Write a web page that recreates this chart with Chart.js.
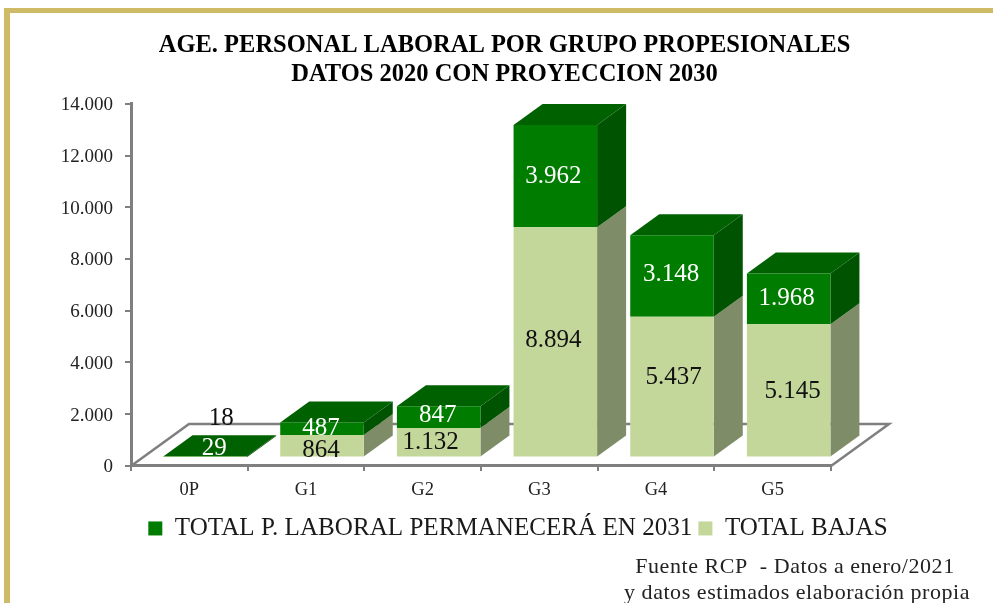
<!DOCTYPE html>
<html><head><meta charset="utf-8">
<style>html,body{margin:0;padding:0;background:#fff;overflow:hidden}#w{width:993px;height:603px;position:relative}</style>
<script src="https://cdn.jsdelivr.net/npm/chart.js@4"></script>
</head><body><div id="w"><canvas id="c"></canvas></div>
<script>
const categories = ['0P','G1','G2','G3','G4','G5'];
const totalBajas = [18,864,1132,8894,5437,5145];
const totalPermanece = [29,487,847,3962,3148,1968];
const valueTicks = ['0','2.000','4.000','6.000','8.000','10.000','12.000','14.000'];
const titleLines = ['AGE. PERSONAL LABORAL POR GRUPO PROPESIONALES','DATOS 2020 CON PROYECCION 2030'];
const sourceLines = ['Fuente RCP  - Datos a enero/2021','y datos estimados elaboración propia'];
const bajasLabelDx = [16,-1,-8,-2,1.5,4];
const bajasLabelDy = [-38,5,0,-1,-9,1];
const permLabelDx = [9,-1,-1,-2,-1,-2];
const permLabelDy = [-8,0,-2,0,-2,-0.5];
const SERIF = '"Liberation Serif", serif';
const SHIFT_X = 16, SHIFT_Y = -8.5, DX = 29, DY = 21, FLOOR_DX = 58, FLOOR_DY = 42;
const fmt = n => String(n).replace(/\B(?=(\d{3})+$)/g,'.');

function poly(ctx, pts, color){
  ctx.beginPath();
  pts.forEach((p,i)=> i?ctx.lineTo(p[0],p[1]):ctx.moveTo(p[0],p[1]));
  ctx.closePath(); ctx.fillStyle=color; ctx.fill();
}
const scene = {
  id:'scene',
  beforeDraw(chart){
    const ctx=chart.ctx;
    ctx.save();
    ctx.fillStyle='#fff'; ctx.fillRect(0,0,chart.width,chart.height);
    ctx.fillStyle='#cfba68';
    ctx.fillRect(4,8,6,chart.height-8);
    ctx.fillRect(4,8,chart.width-4,5);
    ctx.restore();
  },
  beforeDatasetsDraw(chart){
    const ctx=chart.ctx, a=chart.chartArea;
    ctx.save();
    ctx.strokeStyle='#7f7f7f'; ctx.lineWidth=2.5;
    ctx.beginPath();
    ctx.moveTo(a.left,a.bottom);
    ctx.lineTo(a.left+FLOOR_DX,a.bottom-FLOOR_DY);
    ctx.lineTo(a.right+FLOOR_DX,a.bottom-FLOOR_DY);
    ctx.lineTo(a.right,a.bottom);
    ctx.stroke();
    ctx.restore();
    ctx.save();
    ctx.translate(SHIFT_X,SHIFT_Y);
    const sides=['#7f8c68','#005300'];
    [0,1].forEach(d=>{
      chart.getDatasetMeta(d).data.forEach(el=>{
        const r=el.x+el.width/2, h=Math.min(el.y,el.base), b=Math.max(el.y,el.base);
        poly(ctx,[[r,h],[r+DX,h-DY],[r+DX,b-DY],[r,b]],sides[d]);
      });
    });
    chart.getDatasetMeta(1).data.forEach(el=>{
      const l=el.x-el.width/2, r=el.x+el.width/2, t=el.y;
      poly(ctx,[[l,t],[r,t],[r+DX,t-DY],[l+DX,t-DY]],'#006100');
    });
  },
  afterDatasetsDraw(chart){
    const ctx=chart.ctx;
    ctx.textAlign='center'; ctx.textBaseline='middle';
    ctx.font='25px '+SERIF;
    chart.getDatasetMeta(0).data.forEach((el,i)=>{
      ctx.fillStyle='#111';
      ctx.fillText(fmt(totalBajas[i]), el.x+bajasLabelDx[i], (el.y+el.base)/2+bajasLabelDy[i]);
    });
    chart.getDatasetMeta(1).data.forEach((el,i)=>{
      ctx.fillStyle='#fff';
      ctx.fillText(fmt(totalPermanece[i]), el.x+permLabelDx[i], (el.y+el.base)/2+permLabelDy[i]);
    });
    ctx.restore();
    ctx.save();
    ctx.font='22px '+SERIF; ctx.fillStyle='#222'; ctx.textAlign='center'; ctx.textBaseline='alphabetic';
    ctx.letterSpacing='0.55px';
    ctx.fillText(sourceLines[0],795,573);
    ctx.fillText(sourceLines[1],797,599);
    ctx.restore();
  },
  afterLayout(chart){
    chart.titleBlock.left=16; chart.titleBlock.right=chart.width;
  }
};
new Chart(document.getElementById('c'),{
  type:'bar',
  data:{labels:categories,datasets:[
    {label:'TOTAL BAJAS',data:totalBajas,backgroundColor:'#c4d79b',categoryPercentage:1,barPercentage:0.716},
    {label:'TOTAL P. LABORAL PERMANECERÁ EN 2031',data:totalPermanece,backgroundColor:'#007d00',categoryPercentage:1,barPercentage:0.716}
  ]},
  options:{
    responsive:true,maintainAspectRatio:false,animation:false,
    layout:{padding:{left:43,right:0,top:31,bottom:52}},
    plugins:{
      tooltip:{enabled:false},
      title:{display:true,text:titleLines,color:'#000',font:{family:SERIF,size:24.5,weight:'bold',lineHeight:1.2},padding:{top:0,bottom:14}},
      legend:{position:'bottom',reverse:true,labels:{boxWidth:14,boxHeight:14,padding:6,color:'#1a1a1a',font:{family:SERIF,size:25.1}}}
    },
    scales:{
      x:{stacked:true,offset:true,
        grid:{drawOnChartArea:false,color:'#7f7f7f',lineWidth:2,tickLength:5},
        border:{color:'#7f7f7f',width:3},
        ticks:{color:'#222',padding:8,maxRotation:0,font:{family:SERIF,size:18.5}},
        afterFit(s){s.height=44;}
      },
      y:{stacked:true,min:0,max:14000,
        grid:{drawOnChartArea:false,color:'#7f7f7f',lineWidth:2,tickLength:6},
        border:{color:'#7f7f7f',width:3},
        ticks:{stepSize:2000,color:'#222',padding:12,labelOffset:1.5,font:{family:SERIF,size:19},
          callback:(v)=>valueTicks[v/2000]},
        afterFit(s){s.width=88;}
      },
      r2:{type:'linear',position:'right',display:true,grid:{display:false},border:{display:false},
        ticks:{display:false},afterFit(s){s.width=162;}}
    }
  },
  plugins:[scene]
});
</script></body></html>
